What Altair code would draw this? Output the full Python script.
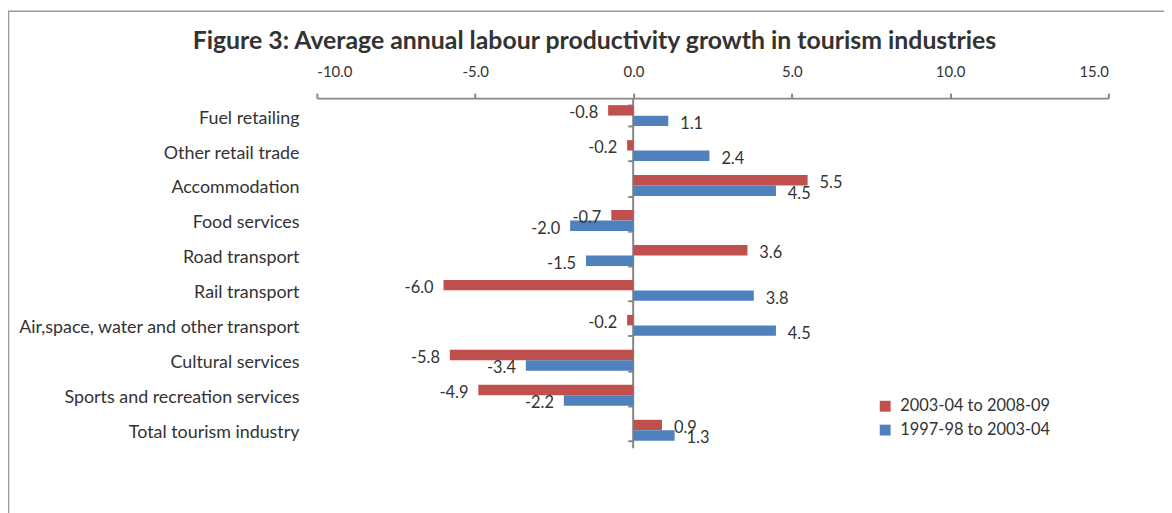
import altair as alt
import pandas as pd

categories = [
    "Fuel retailing",
    "Other retail trade",
    "Accommodation",
    "Food services",
    "Road transport",
    "Rail transport",
    "Air,space, water and other transport",
    "Cultural services",
    "Sports and recreation services",
    "Total tourism  industry",
]
series_names = ["2003-04 to 2008-09", "1997-98 to 2003-04"]
recent = [-0.8, -0.2, 5.5, -0.7, 3.6, -6.0, -0.2, -5.8, -4.9, 0.9]
earlier = [1.1, 2.4, 4.5, -2.0, -1.5, 3.8, 4.5, -3.4, -2.2, 1.3]
x_ticks = [-10, -5, 0, 5, 10, 15]
colors = ["#C0504D", "#4F81BD"]

rows = []
for c, a, b in zip(categories, recent, earlier):
    rows.append({"cat": c, "series": series_names[0], "v": a, "lbl": f"{a:.1f}"})
    rows.append({"cat": c, "series": series_names[1], "v": b, "lbl": f"{b:.1f}"})
df = pd.DataFrame(rows)

FONT = "Lato"
GRAY = "#868686"
TXT = "#333333"

y_enc = alt.Y(
    "cat:N",
    sort=categories,
    title=None,
    scale=alt.Scale(paddingInner=0.4, paddingOuter=0.2),
    axis=alt.Axis(
        offset=-318,
        domainColor=GRAY,
        domainWidth=2,
        tickColor=GRAY,
        tickWidth=2,
        tickSize=5,
        tickBand="extent",
        labelPadding=331,
        labelLimit=0,
        labelFontSize=18,
        labelFont=FONT,
        labelColor=TXT,
        labelAlign="right",
        labelOffset=2.5,
    ),
)
yoff = alt.YOffset("series:N", sort=series_names)
x_enc = alt.X(
    "v:Q",
    title=None,
    scale=alt.Scale(domain=[-10, 15], nice=False, zero=False),
    axis=alt.Axis(
        orient="top",
        values=x_ticks,
        grid=False,
        domainColor=GRAY,
        domainWidth=2,
        tickColor=GRAY,
        tickWidth=2,
        tickSize=5,
        labelPadding=14,
        labelFontSize=15,
        labelFont=FONT,
        labelColor=TXT,
        labelExpr="(datum.value < 0 ? '-' : '') + format(abs(datum.value), '.1f')",
    ),
)

base = alt.Chart(df)

bars = base.mark_bar(size=10.5).encode(
    x=x_enc,
    x2=alt.datum(0),
    y=y_enc,
    yOffset=yoff,
    color=alt.Color(
        "series:N",
        sort=series_names,
        scale=alt.Scale(domain=series_names, range=colors),
        legend=alt.Legend(
            title=None,
            orient="none",
            legendX=564,
            legendY=302,
            symbolType="square",
            symbolSize=120,
            symbolStrokeWidth=0,
            labelFontSize=16.5,
            labelFont=FONT,
            labelColor=TXT,
            rowPadding=7,
            labelOffset=7,
        ),
    ),
)

pos_text = base.transform_filter("datum.v >= 0").mark_text(
    align="left", baseline="middle", dx=12, dy=3, fontSize=16.5, font=FONT, color=TXT
).encode(x="v:Q", y=alt.Y("cat:N", sort=categories), yOffset=yoff, text="lbl:N")

neg_text = base.transform_filter("datum.v < 0").mark_text(
    align="right", baseline="middle", dx=-10, dy=3, fontSize=16.5, font=FONT, color=TXT
).encode(x="v:Q", y=alt.Y("cat:N", sort=categories), yOffset=yoff, text="lbl:N")

frame = alt.Chart(pd.DataFrame({"k": [0]})).mark_rect(
    fill=None, stroke="#999999", strokeWidth=1.5
).encode(
    x=alt.value(-310.5), x2=alt.value(900), y=alt.value(-87.5), y2=alt.value(500)
)

chart = (
    alt.layer(frame, bars, pos_text, neg_text)
    .properties(
        width=797,
        height=352,
        autosize=alt.AutoSizeParams(type="none"),
        padding={"left": 311, "top": 89, "right": 56, "bottom": 64},
        title=alt.TitleParams(
            "Figure 3: Average annual labour productivity growth in tourism industries",
            anchor="middle",
            dx=-119,
            fontSize=25,
            font=FONT,
            fontWeight="bold",
            color=TXT,
            offset=-44,
        ),
    )
    .configure_view(stroke=None)
)

chart.save("out.html", embed_options={"renderer": "svg", "actions": False})
